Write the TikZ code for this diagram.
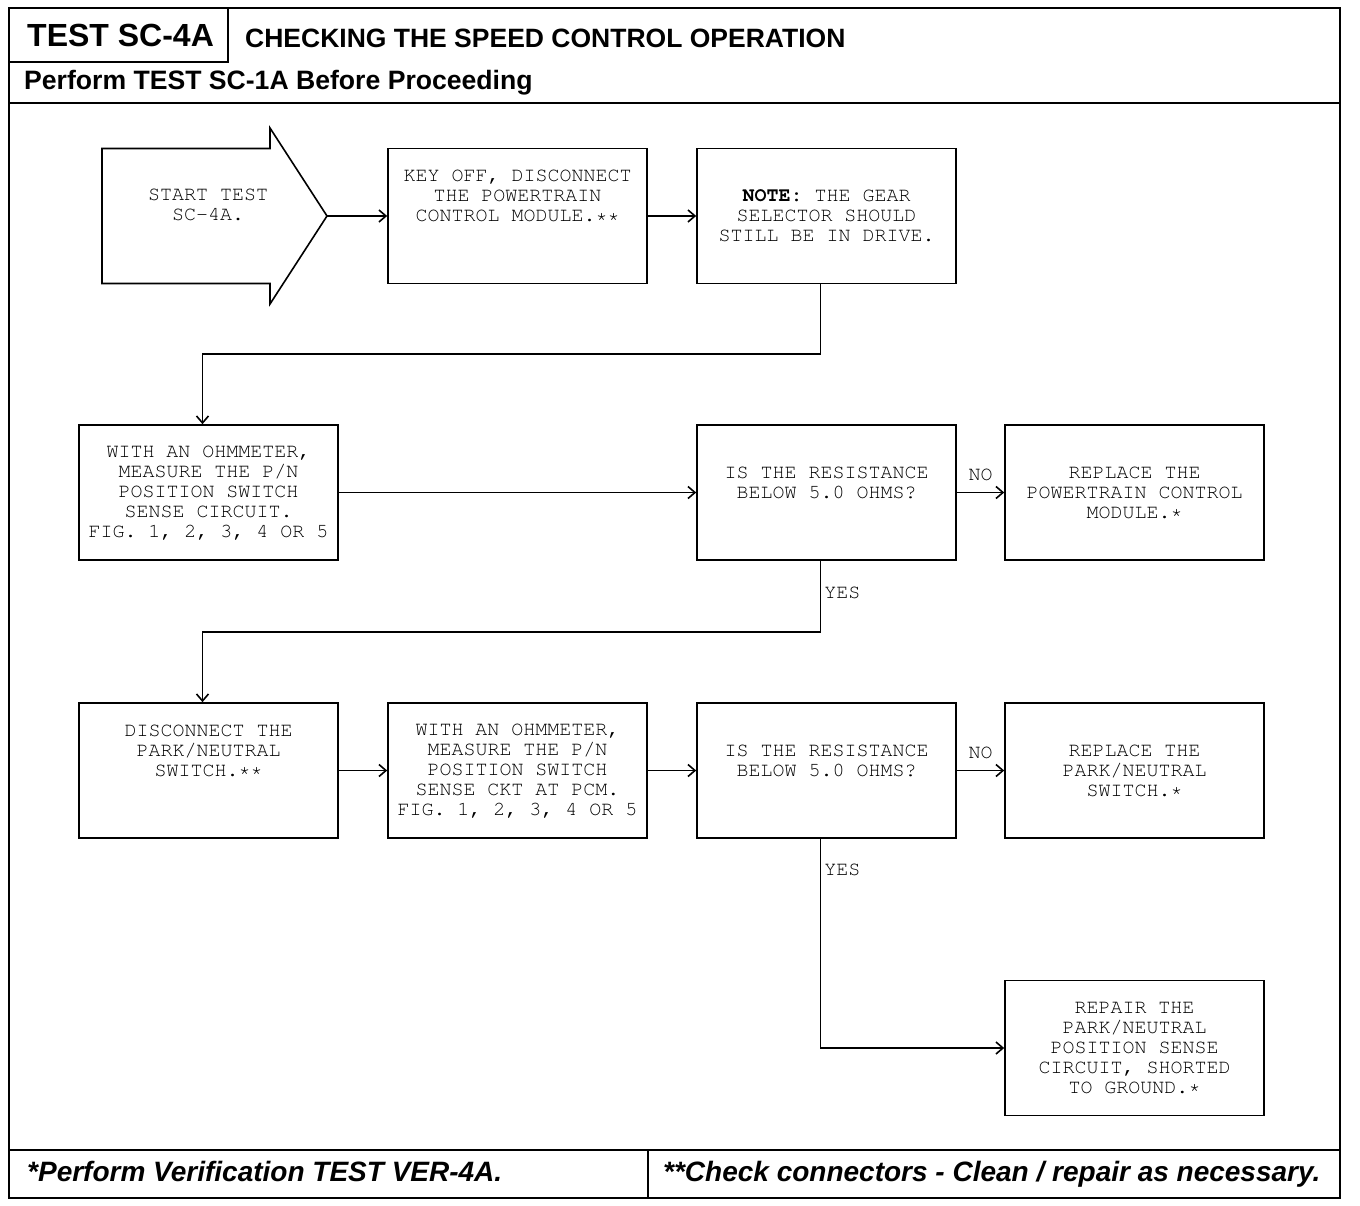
\documentclass[tikz,border=0pt]{standalone}
\usepackage[T1]{fontenc}
\usepackage{fontspec}
\newfontfamily\headfont{Liberation Sans}
\newcommand\typefont{\fontencoding{T1}\fontfamily{pcr}\selectfont}
\usetikzlibrary{arrows.meta}

\begin{document}
\begin{tikzpicture}[
    x=1pt, y=-1pt,
    >={Straight Barb[length=7pt, width=12pt]},
    frame/.style={line width=2.2pt},
    box/.style={draw, line width=1.6pt, minimum width=259pt, minimum height=135pt,
        inner sep=0pt, align=center, font=\typefont\fontsize{20}{20}\selectfont},
    flow/.style={->, line width=1.6pt},
    tag/.style={inner sep=3pt, font=\typefont\fontsize{20}{20}\selectfont},
    head/.style={anchor=base west, inner sep=0pt, font=\headfont\bfseries\fontsize{#1}{#1}\selectfont},
    foot/.style={anchor=base west, inner sep=0pt, font=\headfont\bfseries\itshape\fontsize{28}{28}\selectfont}
]
    \useasboundingbox (0,0) rectangle (1360,1206);

    % frame and header
    \draw[frame] (9,8) rectangle (1340,1198);
    \draw[frame] (228,8) -- (228,62) -- (9,62);
    \draw[frame] (9,103) -- (1340,103);
    \draw[frame] (9,1150) -- (1340,1150);
    \draw[frame] (648,1150) -- (648,1198);

    \node[head=32] (testid) at (27,47) {TEST SC-4A};
    \node[head=26.5] (heading) at (245,48) {CHECKING THE SPEED CONTROL OPERATION};
    \node[head=26.6] (prereq) at (24,90) {Perform TEST SC-1A Before Proceeding};
    \node[foot] (verify) at (27,1181) {*Perform Verification TEST VER-4A.};
    \node[foot] (connect) at (663,1181) {**Check connectors - Clean / repair as necessary.};

    % start arrow
    \draw[line width=1.6pt] (102,148.5) -- (270,148.5) -- (270,128) -- (327,216)
        -- (270,304) -- (270,283.5) -- (102,283.5) -- cycle;
    \coordinate (tip) at (327,216);
    \node[tag, align=center] (start) at (208,205) {START TEST\\SC-4A.};

    % boxes
    \node[box] (A) at (517.5,216) {KEY OFF, DISCONNECT\\THE POWERTRAIN\\CONTROL MODULE.**\\ \mbox{}\\ \mbox{}};
    \node[box] (B) at (826.5,216) {\textbf{NOTE:} THE GEAR\\SELECTOR SHOULD\\STILL BE IN DRIVE.};
    \node[box] (C) at (208.5,492.5) {WITH AN OHMMETER,\\MEASURE THE P/N\\POSITION SWITCH\\SENSE CIRCUIT.\\FIG. 1, 2, 3, 4 OR 5};
    \node[box] (D) at (826.5,492.5) {IS THE RESISTANCE\\BELOW 5.0 OHMS?\\ \mbox{}};
    \node[box] (E) at (1134.5,492.5) {REPLACE THE\\POWERTRAIN CONTROL\\MODULE.*};
    \node[box] (F) at (208.5,770.5) {DISCONNECT THE\\PARK/NEUTRAL\\SWITCH.**\\ \mbox{}\\ \mbox{}};
    \node[box] (G) at (517.5,770.5) {WITH AN OHMMETER,\\MEASURE THE P/N\\POSITION SWITCH\\SENSE CKT AT PCM.\\FIG. 1, 2, 3, 4 OR 5};
    \node[box] (H) at (826.5,770.5) {IS THE RESISTANCE\\BELOW 5.0 OHMS?\\ \mbox{}};
    \node[box] (I) at (1134.5,770.5) {REPLACE THE\\PARK/NEUTRAL\\SWITCH.*};
    \node[box] (J) at (1134.5,1048) {REPAIR THE\\PARK/NEUTRAL\\POSITION SENSE\\CIRCUIT, SHORTED\\TO GROUND.*};

    % connectors
    \draw[flow] (tip) -- (A.west);
    \draw[flow] (A) -- (B);
    \draw[flow] ([xshift=-6pt]B.south) -- ++(0,69.5) -| ([xshift=-6pt]C.north);
    \draw[flow] (C) -- (D);
    \draw[flow] (D) -- node[tag, above=8pt] {NO} (E);
    \draw[flow] ([xshift=-6pt]D.south) -- node[tag, right, pos=.45] {YES} ++(0,71) -| ([xshift=-6pt]F.north);
    \draw[flow] (F) -- (G);
    \draw[flow] (G) -- (H);
    \draw[flow] (H) -- node[tag, above=8pt] {NO} (I);
    \draw[flow] ([xshift=-6pt]H.south) -- node[tag, right, pos=.15] {YES} ([xshift=-6pt]H.south |- J.west) -- (J.west);
\end{tikzpicture}
\end{document}
